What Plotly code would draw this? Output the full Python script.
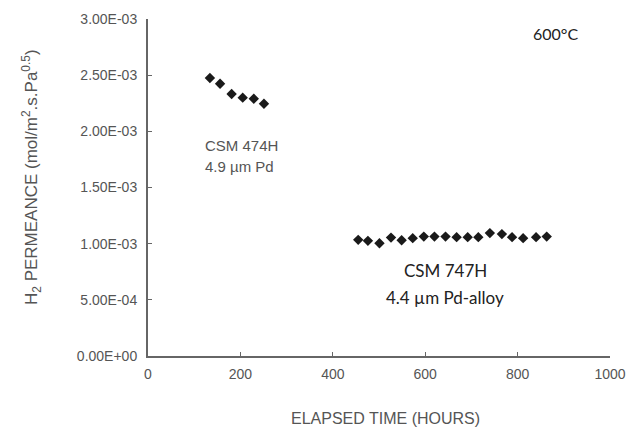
import plotly.graph_objects as go

# Series 1: CSM 474H, 4.9 um Pd
t1 = [134, 156, 181, 205, 229, 251]
p1 = [2.475e-3, 2.424e-3, 2.332e-3, 2.300e-3, 2.290e-3, 2.246e-3]

# Series 2: CSM 747H, 4.4 um Pd-alloy
t2 = [455, 476, 501, 526, 549, 573, 597, 620, 644, 668, 692, 715, 740, 766, 788, 812, 840, 863]
p2 = [1.034e-3, 1.025e-3, 1.004e-3, 1.054e-3, 1.031e-3, 1.049e-3, 1.063e-3, 1.063e-3, 1.063e-3,
      1.058e-3, 1.058e-3, 1.058e-3, 1.094e-3, 1.085e-3, 1.058e-3, 1.049e-3, 1.058e-3, 1.063e-3]

y_tickvals = [0, 0.5e-3, 1.0e-3, 1.5e-3, 2.0e-3, 2.5e-3, 3.0e-3]
y_ticktext = ["0.00E+00", "5.00E-04", "1.00E-03", "1.50E-03", "2.00E-03", "2.50E-03", "3.00E-03"]
x_tickvals = [0, 200, 400, 600, 800, 1000]

axis_font = dict(family="Liberation Sans, Arial", size=14, color="#555")
label_font = dict(family="Liberation Sans, Arial", size=15, color="#555")
title_font = dict(family="Liberation Sans, Arial", size=16, color="#555")
note_font = dict(family="Lato, Open Sans, sans-serif", size=17, color="#222")

fig = go.Figure()
marker = dict(symbol="diamond", size=8, color="#1a1a1a")
fig.add_trace(go.Scatter(x=t1, y=p1, mode="markers", marker=marker, showlegend=False))
fig.add_trace(go.Scatter(x=t2, y=p2, mode="markers", marker=marker, showlegend=False))

fig.update_layout(
    width=630, height=431,
    margin=dict(l=148, r=20, t=19, b=75),
    plot_bgcolor="white", paper_bgcolor="white",
    xaxis=dict(range=[0, 1000], tickvals=x_tickvals, showgrid=False, zeroline=False,
               showline=True, linecolor="#666", linewidth=2, automargin=False,
               ticks="inside", ticklen=4, tickcolor="#666",
               tickfont=axis_font, ticklabelstandoff=4),
    yaxis=dict(range=[0, 3.0e-3], tickvals=y_tickvals, ticktext=y_ticktext,
               showgrid=False, zeroline=False, automargin=False,
               showline=True, linecolor="#666", linewidth=2,
               ticks="inside", ticklen=4, tickcolor="#666",
               tickfont=axis_font, ticklabelstandoff=6),
    annotations=[
        dict(x=385, y=419, showarrow=False, text="ELAPSED TIME (HOURS)", font=title_font),
        dict(x=31, y=177, showarrow=False, textangle=-90,
             text="H<sub>2</sub> PERMEANCE (mol/m<sup>2</sup>.s.Pa<sup>0.5</sup>)",
             font=dict(title_font, size=17)),
        dict(x=203, y=145, showarrow=False, xanchor="left", text="CSM 474H", font=label_font),
        dict(x=203, y=167, showarrow=False, xanchor="left", text="4.9 µm Pd", font=label_font),
        dict(x=445, y=270, showarrow=False, text="CSM 747H", font=note_font),
        dict(x=445, y=297, showarrow=False, text="4.4 µm Pd-alloy", font=note_font),
        dict(x=555, y=33, showarrow=False, text="600°C", font=dict(note_font, size=16)),
    ],
)
# convert pixel-positioned annotations to paper coordinates (explicit anchors)
W, H = 630, 431
l, r, t, b = 148, 20, 19, 75
pw, ph = W - l - r, H - t - b
for a in fig.layout.annotations:
    px, py = a.x, a.y
    a.xref = "paper"; a.yref = "paper"
    a.x = (px - l) / pw
    a.y = (H - b - py) / ph
    if a.xanchor is None:
        a.xanchor = "center"
    a.yanchor = "middle"

fig.write_html("out.html", config={"displayModeBar": False},
               post_script="document.body.style.margin='0';document.body.style.overflow='hidden';")
